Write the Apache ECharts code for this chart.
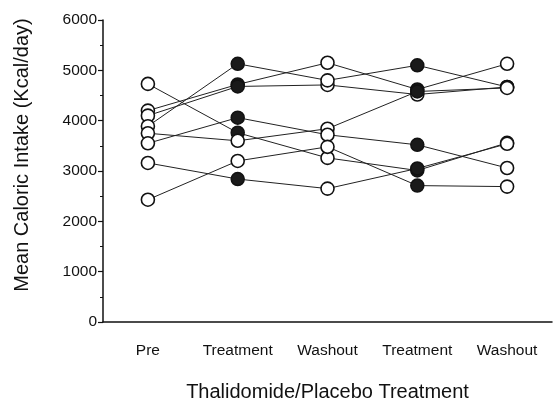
<!DOCTYPE html>
<html>
<head>
<meta charset="utf-8">
<script src="https://cdn.jsdelivr.net/npm/echarts@6/dist/echarts.min.js"></script>
<style>
html,body{margin:0;padding:0;background:#fff;}
#chart{width:553px;height:411px;}
</style>
</head>
<body>
<div id="chart"></div>
<script>
// Categories (time points)
const categories = ['Pre', 'Treatment', 'Washout', 'Treatment', 'Washout'];
const yTicks = [0, 1000, 2000, 3000, 4000, 5000, 6000];

// Mean caloric intake per subject (Kcal/day) at each time point
const subject1 = [4730, 3760, 3260, 3010, 3560];
const subject2 = [4200, 4720, 5150, 4620, 5130];
const subject3 = [4100, 4680, 4710, 4520, 4670];
const subject4 = [3890, 5130, 4800, 5100, 4670];
const subject5 = [3750, 3600, 3840, 4580, 4650];
const subject6 = [3550, 4060, 3720, 3520, 3060];
const subject7 = [3160, 2840, 2650, 3050, 3540];
const subject8 = [2430, 3200, 3480, 2710, 2690];

// Marker fill per subject at each time point (1 = filled / thalidomide, 0 = open)
const filled1 = [0, 1, 0, 1, 0];
const filled2 = [0, 1, 0, 1, 0];
const filled3 = [0, 1, 0, 0, 0];
const filled4 = [0, 1, 0, 1, 0];
const filled5 = [0, 0, 0, 1, 0];
const filled6 = [0, 1, 0, 1, 0];
const filled7 = [0, 1, 0, 1, 0];
const filled8 = [0, 0, 0, 1, 0];

const subjects = [subject1, subject2, subject3, subject4, subject5, subject6, subject7, subject8];
const fills = [filled1, filled2, filled3, filled4, filled5, filled6, filled7, filled8];

const FONT = '"Liberation Sans", Arial, Helvetica, sans-serif';

const series = subjects.map((vals, si) => ({
  type: 'line',
  name: 'Subject ' + (si + 1),
  symbol: 'circle',
  symbolSize: 13,
  lineStyle: { color: '#222', width: 1 },
  z: 2,
  data: vals.map((v, i) => ({
    value: v,
    itemStyle: fills[si][i]
      ? { color: '#1a1a1a', borderColor: '#111', borderWidth: 1.5 }
      : { color: '#ffffff', borderColor: '#111', borderWidth: 1.6 }
  })),
  emphasis: { disabled: true },
  animation: false
}));

const chart = echarts.init(document.getElementById('chart'), null, { renderer: 'canvas' });
chart.setOption({
  backgroundColor: '#ffffff',
  animation: false,
  grid: { left: 103, right: 1, top: 20, bottom: 89, containLabel: false, outerBoundsMode: 'none' },
  xAxis: {
    type: 'category',
    data: categories,
    boundaryGap: true,
    axisLine: { lineStyle: { color: '#111', width: 1.5 } },
    axisTick: { alignWithLabel: true, length: 5, inside: false, lineStyle: { color: '#111', width: 1.2 } },
    axisLabel: { color: '#111', fontFamily: FONT, fontSize: 15.5, margin: 21, interval: 0 },
    name: 'Thalidomide/Placebo Treatment',
    nameLocation: 'middle',
    nameGap: 60,
    nameTextStyle: { color: '#111', fontFamily: FONT, fontSize: 20 }
  },
  yAxis: {
    type: 'value',
    min: yTicks[0],
    max: yTicks[yTicks.length - 1],
    interval: 1000,
    axisLine: { show: true, lineStyle: { color: '#111', width: 1.5 } },
    axisTick: { show: true, length: 5, lineStyle: { color: '#111', width: 1.2 } },
    minorTick: { show: true, splitNumber: 2, length: 3, lineStyle: { color: '#111', width: 1 } },
    splitLine: { show: false },
    axisLabel: { color: '#111', fontFamily: FONT, fontSize: 15.5, margin: 6, formatter: v => String(v) },
    name: 'Mean Caloric Intake (Kcal/day)',
    nameLocation: 'middle',
    nameGap: 71,
    nameTextStyle: { color: '#111', fontFamily: FONT, fontSize: 20, padding: [0, 0, 0, 32] }
  },
  series: series
});
</script>
</body>
</html>
